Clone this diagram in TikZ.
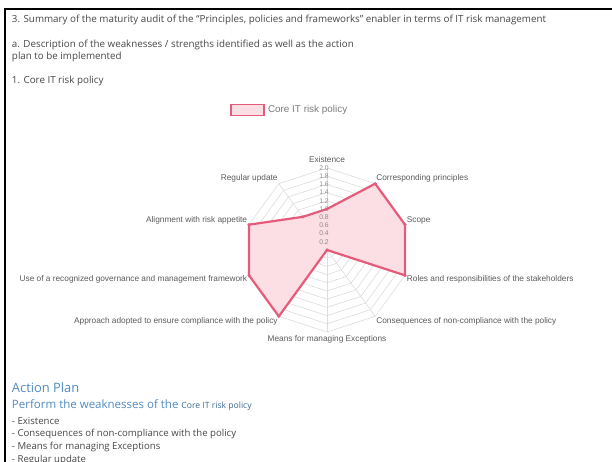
\documentclass[tikz,border=0pt]{standalone}
\usepackage{fontspec}
\setmainfont{Open Sans}
\newfontfamily\chartfont{Liberation Sans}
\usetikzlibrary{positioning}

\definecolor{bodygray}{RGB}{70,70,70}
\definecolor{labelgray}{RGB}{90,90,90}
\definecolor{gridgray}{RGB}{220,220,220}
\definecolor{riskpink}{RGB}{230,90,122}
\definecolor{riskfill}{RGB}{252,222,229}
\definecolor{planblue}{RGB}{80,138,194}

\begin{document}
\begin{tikzpicture}[x=1pt, y=-1pt,
    every node/.style={inner sep=0pt, outer sep=0pt},
    bodytext/.style={anchor=west, font=\fontsize{9.8}{11}\selectfont, text=bodygray},
    listtext/.style={anchor=west, font=\fontsize{9.6}{11}\selectfont, text=bodygray},
    axislabel/.style={font=\chartfont\fontsize{8.3}{9}\selectfont, text=labelgray},
    ticklabel/.style={font=\chartfont\fontsize{6.8}{8}\selectfont, text=labelgray!70},
    gridline/.style={draw=gridgray, line width=0.6pt},
    series/.style={draw=riskpink, line width=2.2pt, line join=round, fill=riskfill},
  ]
  \useasboundingbox (0,0) rectangle (612,462);
  \clip (0,0) rectangle (612,462);

  % Frame
  \draw[line width=2pt] (5,470) -- (5,9) -- (620,9);

  % Header text
  \node[bodytext] (title) at (12,20)
    {3. Summary of the maturity audit of the ``Principles, policies and frameworks'' enabler in terms of IT risk management};
  \node[bodytext] (descr1) at (12,45)
    {a. Description of the weaknesses / strengths identified as well as the action};
  \node[bodytext] (descr2) at (12,57) {plan to be implemented};
  \node[bodytext] (policy) at (12,81) {1. Core IT risk policy};

  % Legend
  \node[draw=riskpink, fill=riskfill, line width=1.6pt,
        minimum width=33pt, minimum height=11pt] (legendbox) at (247.5,110) {};
  \node[axislabel, font=\chartfont\fontsize{9.9}{12}\selectfont, text=labelgray!80, right=4pt of legendbox]
       (legendtext) {Core IT risk policy};

  % Radar chart
  \begin{scope}[shift={(327,250)}, x=1pt, y=1pt]
    \foreach \k in {1,...,10}
      \draw[gridline] (90:{\k*8.2}) -- (54:{\k*8.2}) -- (18:{\k*8.2}) -- (-18:{\k*8.2})
        -- (-54:{\k*8.2}) -- (-90:{\k*8.2}) -- (-126:{\k*8.2}) -- (-162:{\k*8.2})
        -- (162:{\k*8.2}) -- (126:{\k*8.2}) -- cycle;
    \foreach \a in {90,54,...,-234}
      \draw[gridline] (0,0) -- (\a:82);

    % Data
    \foreach \val [count=\i] in {1.0,2,2,2,0,0,2,2,2,1.0}
      \coordinate (p\i) at ({90-36*(\i-1)}:{\val*41});
    \draw[series] (p1) -- (p2) -- (p3) -- (p4) -- (p5) -- (p6) -- (p7) -- (p8)
      -- (p9) -- (p10) -- cycle;
    \foreach \i in {1,...,10}
      \fill[riskpink] (p\i) circle (1.7);

    % Ticks
    \foreach \t [count=\k] in {0.2,0.4,0.6,0.8,1.0,1.2,1.4,1.6,1.8,2.0}
      \node[ticklabel] (tick\k) at (-3,{\k*8.2}) {\t};

    % Axis labels
    \node[axislabel, anchor=south]      (existence)   at (90:87)   {Existence};
    \node[axislabel, anchor=south west] (principles)  at (54:84)   {Corresponding principles};
    \node[axislabel, anchor=south west] (scope)       at (18:84)   {Scope};
    \node[axislabel, anchor=north west] (roles)       at (-18:84)  {Roles and responsibilities of the stakeholders};
    \node[axislabel, anchor=north west] (consequence) at (-54:84)  {Consequences of non-compliance with the policy};
    \node[axislabel, anchor=north]      (exceptions)  at (-90:85)  {Means for managing Exceptions};
    \node[axislabel, anchor=north east] (approach)    at (-126:84) {Approach adopted to ensure compliance with the policy};
    \node[axislabel, anchor=north east] (framework)   at (-162:84) {Use of a recognized governance and management framework};
    \node[axislabel, anchor=south east] (appetite)    at (162:84)  {Alignment with risk appetite};
    \node[axislabel, anchor=south east] (update)      at (126:84)  {Regular update};
  \end{scope}

  % Action plan
  \node[anchor=west, font=\fontsize{12.9}{14}\selectfont, text=planblue] (plan) at (12,388) {Action Plan};
  \node[anchor=west, font=\fontsize{11.5}{12}\selectfont, text=planblue] (perform) at (12,405)
    {Perform the weaknesses of the {\fontsize{8.6}{9}\selectfont\color{planblue!75!black}Core IT risk policy}};
  \node[listtext] (item1) at (12,421) {- Existence};
  \node[listtext] (item2) at (12,434) {- Consequences of non-compliance with the policy};
  \node[listtext] (item3) at (12,447) {- Means for managing Exceptions};
  \node[listtext] (item4) at (12,460) {- Regular update};
\end{tikzpicture}
\end{document}
